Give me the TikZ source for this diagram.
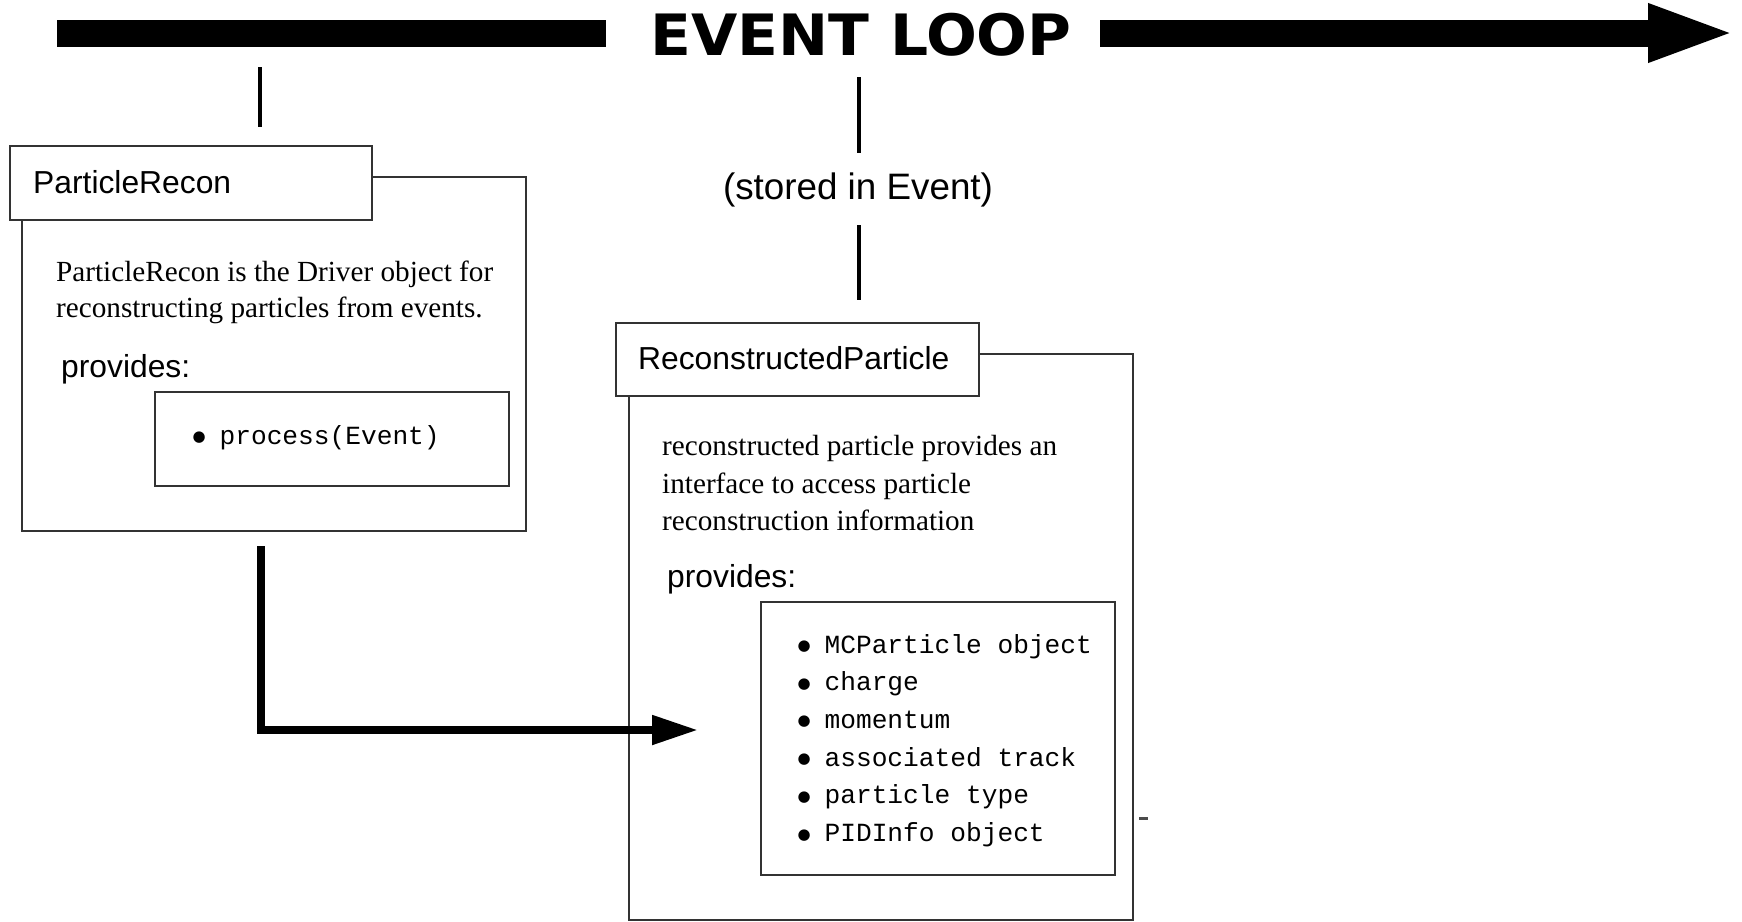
\documentclass[tikz,border=0pt]{standalone}
\usepackage{fontspec}
\setmainfont{Liberation Serif}
\setsansfont{Liberation Sans}
\setmonofont{Liberation Mono}
\newfontfamily\loopfont{DejaVu Sans}
\usetikzlibrary{arrows.meta}

% list bullet: a filled dot in a two-character cell of the mono font
\newcommand{\itemdot}{\makebox[31.4pt][l]{\hspace{4.5pt}\raisebox{2.5pt}{\loopfont\fontsize{15}{15}\selectfont ●}}}

\begin{document}
\begin{tikzpicture}[x=1pt,y=-1pt,
  frame/.style={draw=black!80, line width=1.8pt, anchor=north west, inner sep=0pt},
  header/.style={frame, fill=white},
  label/.style={anchor=base west, inner sep=0pt},
  headtext/.style={label, font=\fontsize{31.8}{36}\selectfont\sffamily},
  desc/.style={label, font=\fontsize{29.2}{36}\selectfont\rmfamily},
  mono/.style={label, font=\fontsize{26.2}{36}\selectfont\ttfamily},
  tick/.style={line width=4.5pt},
  loopbar/.style={line width=27pt},
  feed/.style={line width=8pt, line join=miter, -{Triangle[length=46pt,width=28pt]}},
]
\path[use as bounding box, fill=white] (0,0) rectangle (1742,921);

% event loop banner
\node[anchor=base, inner sep=0pt, font=\fontsize{57}{60}\selectfont\loopfont\bfseries]
  (loop) at (861,55) {\scalebox{1.05}[1]{EVENT LOOP}};
\coordinate (barLs) at (57,33);
\coordinate (barLe) at (606,33);
\coordinate (barRs) at (1100,33);
\coordinate (barTip) at (1737,33);
\draw[loopbar] (barLs) -- (barLe);
\draw[loopbar, -{Triangle[length=89pt,width=52pt]}] (barRs) -- (barTip);

% ticks hanging from the loop
\coordinate (tA1) at (260,67);  \coordinate (tA2) at (260,127);
\coordinate (tB1) at (859,77);  \coordinate (tB2) at (859,153);
\coordinate (tC1) at (859,225); \coordinate (tC2) at (859,300);
\draw[tick] (tA1) -- (tA2);
\draw[tick] (tB1) -- (tB2);
\draw[tick] (tC1) -- (tC2);
\node[anchor=base, inner sep=0pt, font=\fontsize{36.8}{40}\selectfont\sffamily]
  (stored) at (858,199) {(stored in Event)};

% ParticleRecon
\node[frame, minimum width=504pt, minimum height=354pt] (recon) at (21,176) {};
\node[header, minimum width=362pt, minimum height=74pt] (reconhead) at (9,145) {};
\node[headtext] (recontitle) at (33,193) {ParticleRecon};
\node[desc] (recond1) at (56,281) {ParticleRecon is the Driver object for};
\node[desc] (recond2) at (56,317) {reconstructing particles from events.};
\node[headtext] (reconprov) at (61,377) {provides:};
\node[frame, minimum width=354pt, minimum height=94pt] (reconitems) at (154,391) {};
\node[mono] (reconi1) at (188,444) {\itemdot process(Event)};

% ReconstructedParticle
\node[frame, minimum width=504pt, minimum height=566pt] (part) at (628,353) {};
\node[header, minimum width=363pt, minimum height=73pt] (parthead) at (615,322) {};
\node[headtext] (parttitle) at (638,369) {ReconstructedParticle};
\node[desc] (partd1) at (662,455) {reconstructed particle provides an};
\node[desc] (partd2) at (662,493) {interface to access particle};
\node[desc] (partd3) at (662,530) {reconstruction information};
\node[headtext] (partprov) at (667,587) {provides:};
\node[frame, minimum width=354pt, minimum height=273pt] (partitems) at (760,601) {};
\node[mono] (parti1) at (793,653) {\itemdot MCParticle object};
\node[mono] (parti2) at (793,690.7) {\itemdot charge};
\node[mono] (parti3) at (793,728.4) {\itemdot momentum};
\node[mono] (parti4) at (793,766.1) {\itemdot associated track};
\node[mono] (parti5) at (793,803.8) {\itemdot particle type};
\node[mono] (parti6) at (793,841.5) {\itemdot PIDInfo object};

% flow from the driver into the particle
\coordinate (feedstart) at (261,546);
\coordinate (feedtip) at (698,730);
\draw[feed] (feedstart) |- (feedtip);

% small mark beside the particle box
\coordinate (markA) at (1139,818);
\coordinate (markB) at (1148,818);
\draw[black!70, line width=3pt] (markA) -- (markB);
\end{tikzpicture}
\end{document}
